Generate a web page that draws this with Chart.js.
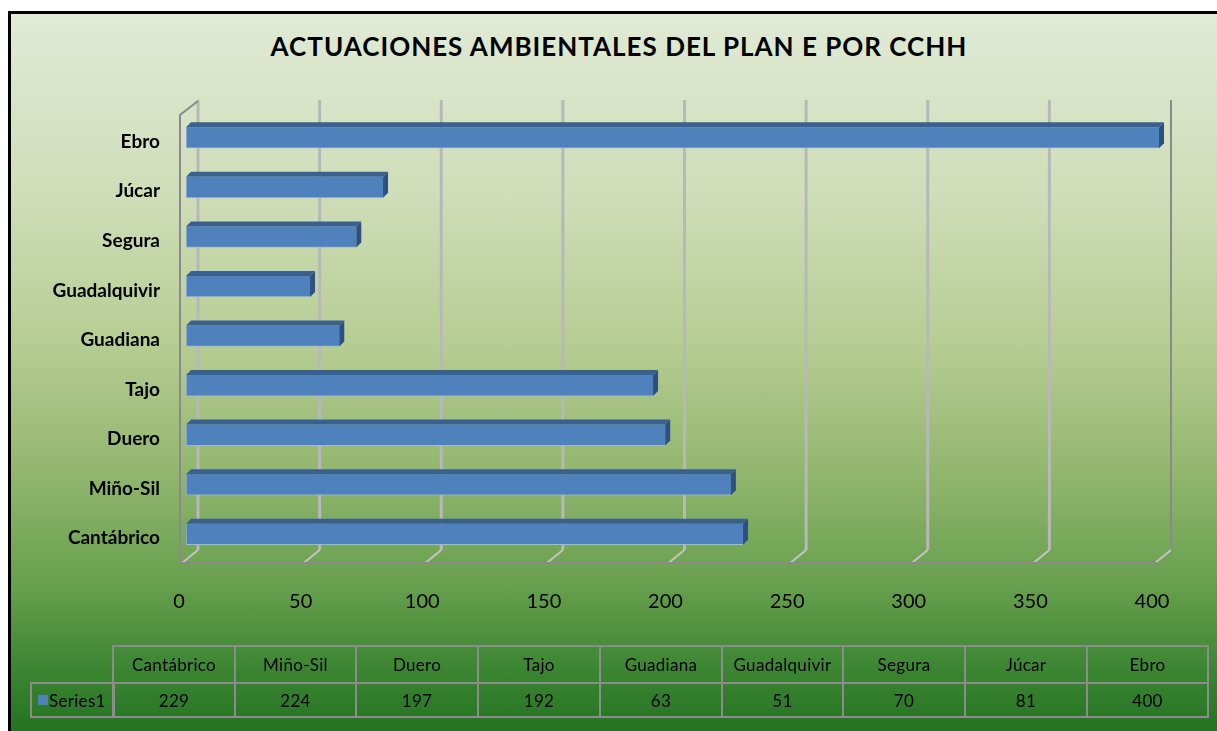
<!DOCTYPE html>
<html>
<head>
<meta charset="utf-8">
<script src="https://cdn.jsdelivr.net/npm/chart.js@4"></script>
<style>
  body { margin: 0; background: #fff; }
  #frame {
    position: absolute; left: 8px; top: 11px; width: 1220px; height: 730px;
    border-left: 3px solid #000; border-top: 3px solid #000;
    background: linear-gradient(to bottom, #e0ead5 0%, #cfddb8 25%, #b6cd93 45%, #94b770 62%, #68a04e 78%, #3b8532 90%, #1f6f1e 100%);
  }
  #title {
    position: absolute; left: 0; top: 30px; width: 1238px; text-align: center;
    font: bold 26px Lato, sans-serif; letter-spacing: 1px; color: #000;
  }
  #chart { position: absolute; left: 0; top: 0; }
  .cell {
    position: absolute; box-sizing: border-box; border: 2px solid #8c8c8c;
    font: 17px Lato, sans-serif; letter-spacing: 0.3px; color: #000; text-align: center;
    display: flex; align-items: center; justify-content: center;
  }
</style>
</head>
<body>
<div id="frame"></div>
<div id="title">ACTUACIONES AMBIENTALES DEL PLAN E POR CCHH</div>
<canvas id="chart" width="1217" height="731"></canvas>
<div id="table"></div>
<script>
const categories = ['Cantábrico', 'Miño-Sil', 'Duero', 'Tajo', 'Guadiana', 'Guadalquivir', 'Segura', 'Júcar', 'Ebro'];
const seriesName = 'Series1';
const values = [229, 224, 197, 192, 63, 51, 70, 81, 400];
const xTicks = [0, 50, 100, 150, 200, 250, 300, 350, 400];

const BAR_COLOR = '#4f81bd';
const DEPTH_X = 5;
const DEPTH_Y = 5;

// back wall, floor and gridlines of the 3d box
const wallsPlugin = {
  id: 'walls',
  beforeDatasetsDraw(chart) {
    const { ctx, chartArea, scales } = chart;
    const xs = scales.x;
    const backTop = chartArea.top - 13;
    const backBottom = chartArea.bottom - 9;
    const frontBottom = chartArea.bottom + 4;
    ctx.save();
    xTicks.forEach((v, i) => {
      const xb = xs.getPixelForValue(v) + 12;
      ctx.strokeStyle = i === xTicks.length - 1 ? '#8a8a8a' : '#b8b8b8';
      ctx.lineWidth = i === xTicks.length - 1 ? 2 : 3;
      ctx.beginPath();
      ctx.moveTo(xb, backTop);
      ctx.lineTo(xb, backBottom);
      ctx.stroke();
      ctx.strokeStyle = '#c4c4c4';
      ctx.lineWidth = 2;
      ctx.beginPath();
      ctx.moveTo(xb, backBottom);
      ctx.lineTo(xb - 16, frontBottom);
      ctx.stroke();
    });
    const left = xs.getPixelForValue(0) - 6;
    ctx.strokeStyle = '#8a8a8a';
    ctx.lineWidth = 2;
    ctx.beginPath();
    ctx.moveTo(left, frontBottom);
    ctx.lineTo(xs.getPixelForValue(400) - 2, frontBottom);
    ctx.stroke();
    ctx.beginPath();
    ctx.moveTo(left, frontBottom);
    ctx.lineTo(left, chartArea.top + 2);
    ctx.lineTo(left + 18, backTop + 1);
    ctx.stroke();
    ctx.restore();
  }
};

// top and side faces of each bar
const depthPlugin = {
  id: 'depth',
  afterDatasetsDraw(chart) {
    const { ctx } = chart;
    chart.getDatasetMeta(0).data.forEach((bar) => {
      const { x, y, base, height } = bar.getProps(['x', 'y', 'base', 'height'], true);
      const top = y - height / 2;
      const bottom = y + height / 2;
      ctx.fillStyle = '#3a6090';
      ctx.beginPath();
      ctx.moveTo(base, top);
      ctx.lineTo(base + DEPTH_X, top - DEPTH_Y);
      ctx.lineTo(x + DEPTH_X, top - DEPTH_Y);
      ctx.lineTo(x, top);
      ctx.closePath();
      ctx.fill();
      ctx.fillStyle = '#2d5080';
      ctx.beginPath();
      ctx.moveTo(x, top);
      ctx.lineTo(x + DEPTH_X, top - DEPTH_Y);
      ctx.lineTo(x + DEPTH_X, bottom - DEPTH_Y);
      ctx.lineTo(x, bottom);
      ctx.closePath();
      ctx.fill();
    });
  }
};

new Chart(document.getElementById('chart'), {
  type: 'bar',
  data: {
    labels: categories,
    datasets: [{
      label: seriesName,
      data: values,
      backgroundColor: BAR_COLOR,
      borderColor: '#9bb9dd',
      borderWidth: { left: 1, bottom: 1, top: 0, right: 0 },
      borderSkipped: false,
      barThickness: 21,
    }],
  },
  plugins: [wallsPlugin, depthPlugin],
  options: {
    indexAxis: 'y',
    responsive: false,
    animation: false,
    devicePixelRatio: 1,
    layout: { padding: { left: 0, right: 58, top: 113, bottom: 0 } },
    plugins: { legend: { display: false }, tooltip: { enabled: false }, title: { display: false } },
    scales: {
      x: {
        min: 0, max: 400,
        afterFit: (s) => { s.height = 172; },
        afterBuildTicks: (s) => { s.ticks = xTicks.map((v) => ({ value: v })); },
        grid: { display: false },
        border: { display: false },
        ticks: { color: '#000', font: { family: 'Lato', size: 20 }, padding: 23, labelOffset: -7 },
      },
      y: {
        reverse: true,
        afterFit: (s) => { s.width = 186; },
        grid: { display: false },
        border: { display: false },
        ticks: { color: '#000', font: { family: 'Lato', size: 19, weight: 'bold' }, padding: 18, labelOffset: 4 },
      },
    },
  },
});

// data table under the chart
const table = document.getElementById('table');
const colLeft = 113;
const colW = 121.7;
const addCell = (text, x, y, w, h) => {
  const div = document.createElement('div');
  div.className = 'cell';
  div.style.left = x + 'px';
  div.style.top = y + 'px';
  div.style.width = w + 'px';
  div.style.height = h + 'px';
  div.textContent = text;
  table.appendChild(div);
  return div;
};
categories.forEach((name, i) => {
  const x = Math.round(colLeft + i * colW);
  const w = Math.round(colLeft + (i + 1) * colW) - x + 2;
  addCell(name, x - 1, 645, w, 39);
  addCell(String(values[i]), x - 1, 682, w, 36);
});
const legendCell = addCell('', 30, 682, 85, 36);
legendCell.style.justifyContent = 'flex-start';
legendCell.style.paddingLeft = '6px';
legendCell.innerHTML = '<span style="display:inline-block;width:10px;height:10px;background:' + BAR_COLOR + ';margin-right:1px"></span>' + seriesName;
</script>
</body>
</html>
